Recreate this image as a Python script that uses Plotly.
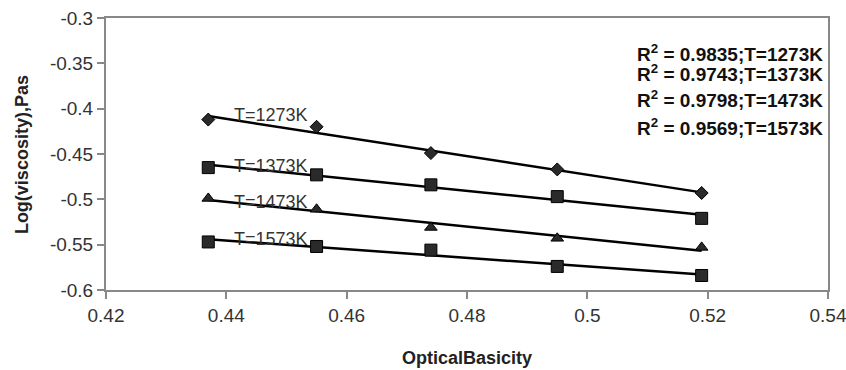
import numpy as np
import plotly.graph_objects as go

basicity = [0.437, 0.455, 0.474, 0.495, 0.519]
temps = ["T=1273K", "T=1373K", "T=1473K", "T=1573K"]
log_visc_1273 = [-0.412, -0.420, -0.449, -0.467, -0.493]
log_visc_1373 = [-0.465, -0.473, -0.484, -0.497, -0.521]
log_visc_1473 = [-0.499, -0.511, -0.531, -0.543, -0.553]
log_visc_1573 = [-0.547, -0.552, -0.556, -0.574, -0.584]
r2_labels = ["R<sup>2</sup> = 0.9835;T=1273K", "R<sup>2</sup> = 0.9743;T=1373K",
             "R<sup>2</sup> = 0.9798;T=1473K", "R<sup>2</sup> = 0.9569;T=1573K"]
y_ticks = [-0.6, -0.55, -0.5, -0.45, -0.4, -0.35, -0.3]
y_tick_text = ["-0.6", "-0.55", "-0.5", "-0.45", "-0.4", "-0.35", "-0.3"]
x_ticks = [0.42, 0.44, 0.46, 0.48, 0.5, 0.52, 0.54]
x_tick_text = ["0.42", "0.44", "0.46", "0.48", "0.5", "0.52", "0.54"]

series = [log_visc_1273, log_visc_1373, log_visc_1473, log_visc_1573]
symbols = ["diamond", "square", "triangle-up", "square"]
sizes = [10, 12, 11, 12]

font = "Liberation Sans, Arial, sans-serif"
fig = go.Figure()
for vals, sym, sz, name in zip(series, symbols, sizes, temps):
    slope, icpt = np.polyfit(basicity, vals, 1)
    xs = [basicity[0], basicity[-1]]
    fig.add_trace(go.Scatter(x=xs, y=[slope * x + icpt for x in xs], mode="lines",
                             line=dict(color="black", width=2.5), showlegend=False))
    fig.add_trace(go.Scatter(x=basicity, y=vals, mode="markers", name=name,
                             marker=dict(symbol=sym, size=sz, color="#2a2a2a",
                                         line=dict(color="black", width=1)),
                             showlegend=False))

# temperature labels near the start of each line
label_y = [-0.4066, -0.4635, -0.503, -0.5435]
for t, yv in zip(temps, label_y):
    fig.add_annotation(x=0.4475, y=yv, text=t, showarrow=False, xanchor="center",
                       yanchor="middle", font=dict(family=font, size=18, color="#333"))

r2_y = [-0.3385, -0.3605, -0.389, -0.42]
for txt, yv in zip(r2_labels, r2_y):
    fig.add_annotation(x=0.5395, y=yv, text="<b>" + txt + "</b>", showarrow=False,
                       xanchor="right", yanchor="middle",
                       font=dict(family=font, size=19, color="#111"))

fig.add_annotation(xref="paper", yref="paper", x=-0.1163, y=0.496,
                   text="<b>Log(viscosity),Pas</b>", textangle=-90, showarrow=False,
                   xanchor="center", yanchor="middle",
                   font=dict(family=font, size=18, color="#222"))
fig.add_annotation(xref="paper", yref="paper", x=(467 - 106) / 722, y=-(358 - 290) / 272,
                   text="<b>OpticalBasicity</b>", showarrow=False,
                   xanchor="center", yanchor="middle",
                   font=dict(family=font, size=18, color="#222"))

# figure is a little wider than the window so the last tick label is clipped by the window
fig.update_layout(
    width=866, height=370,
    margin=dict(l=106, r=38, t=18, b=80),
    plot_bgcolor="white", paper_bgcolor="white",
    font=dict(family=font, size=19, color="#333"),
)
fig.update_xaxes(range=[0.42, 0.54], tickvals=x_ticks, ticktext=x_tick_text,
                 automargin=False,
                 showgrid=False, zeroline=False, showline=True, linecolor="#888",
                 linewidth=2, mirror=True, ticks="outside", ticklen=7, tickcolor="#888",
                 tickwidth=2)
fig.update_yaxes(range=[-0.6, -0.3], tickvals=y_ticks, ticktext=y_tick_text,
                 automargin=False,
                 showgrid=False, zeroline=False, showline=True, linecolor="#888",
                 linewidth=2, mirror=True, ticks="outside", ticklen=7, tickcolor="#888",
                 tickwidth=2)

fig.write_html("out.html", config={"displayModeBar": False},
               post_script="document.body.style.margin='0px';document.body.style.overflow='hidden';")
